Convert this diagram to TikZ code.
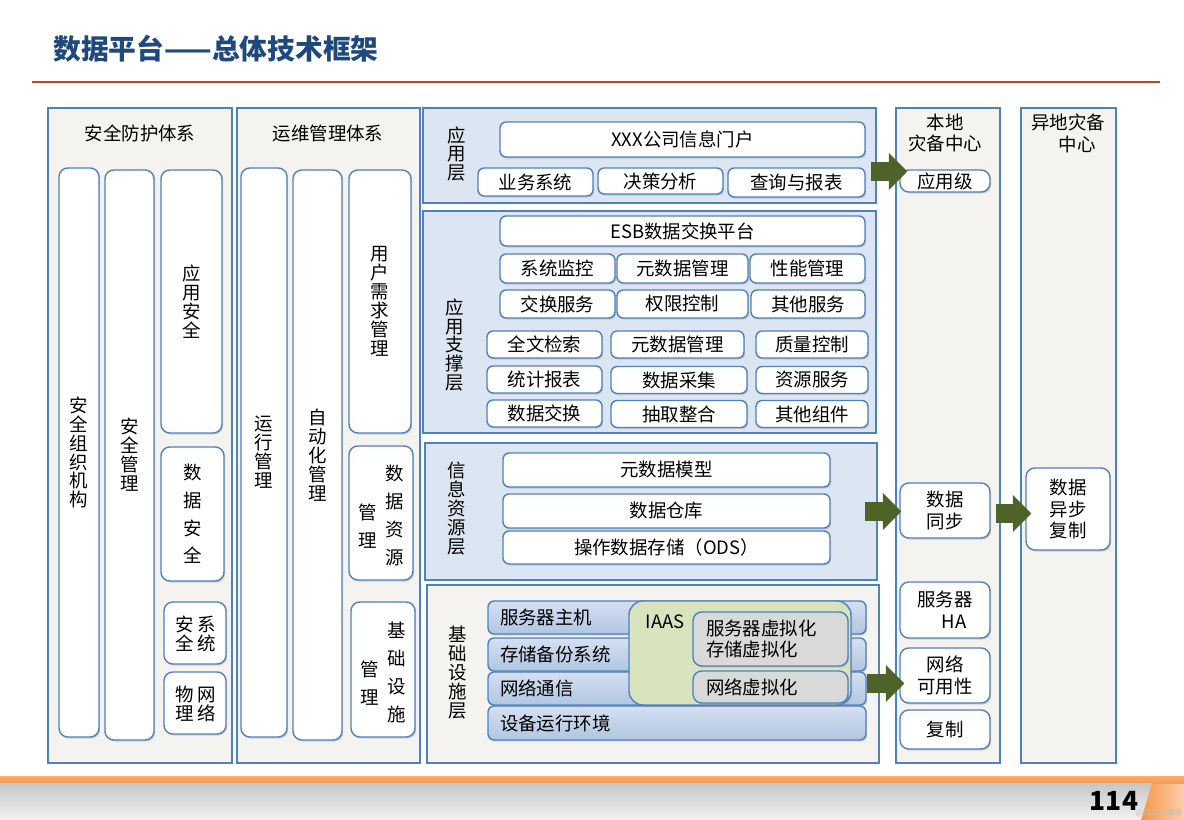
\documentclass[tikz,border=0pt]{standalone}
\usepackage{fontspec}
\setmainfont{Noto Sans CJK SC}
\usetikzlibrary{arrows.meta,shadows}

\definecolor{bord}{HTML}{4F81BD}
\definecolor{pgray}{HTML}{F4F3EF}
\definecolor{lblue}{HTML}{DCE6F2}
\definecolor{agreen}{HTML}{4F6228}
\definecolor{ttl}{HTML}{1F497D}
\definecolor{redl}{HTML}{C0461E}
\definecolor{iaas}{HTML}{D7E4BD}
\definecolor{vgray}{HTML}{D9D9D9}
\definecolor{orng}{HTML}{F79646}

\newcommand{\fs}{\fontsize{10.5}{12.5}\selectfont}
\newcommand{\fv}{\fontsize{10.5}{10.8}\selectfont}

\begin{document}
\begin{tikzpicture}[x=0.02cm,y=-0.02cm,
  wh/.style 2 args={minimum width=#1*0.02cm,minimum height=#2*0.02cm},
  shd/.style={drop shadow={shadow xshift=0.7pt,shadow yshift=-0.9pt,opacity=0.3}}]

\useasboundingbox (0,0) rectangle (1184,820);

% title
\node[anchor=west,inner sep=0,text=ttl,font=\fontsize{15.8}{16}\selectfont\bfseries] (T) at (53,49) {数据平台——总体技术框架};
\draw[redl,line width=1.4pt] (32,82) -- (1160,82);

% footer
\shade[top color=orng!80!white,bottom color=orng] (0,777) rectangle (1184,784);
\shade[top color=black!22,bottom color=black!5] (0,784) rectangle (1152,820);
\shade[left color=orng,right color=orng!45] (1152,784) -- (1184,784) -- (1184,820) -- (1141,820) -- cycle;
\node[font=\fontsize{15}{15}\selectfont\bfseries] (pg) at (1114,801) {114};
\node[anchor=east,text=black!25,font=\fontsize{4.5}{5}\selectfont,inner sep=0] (wm) at (1183,813) {@51CTO博客};

\begin{scope}[every node/.style={draw=bord,fill=pgray,line width=0.6pt,inner sep=0}]
    \node[wh={184}{655}] (P1) at (140,435.5) {};
    \node[wh={183}{655}] (P2) at (328.5,435.5) {};
    \node[wh={453}{95},fill=lblue] (L1) at (649.5,155.5) {};
    \node[wh={453}{222},fill=lblue] (L2) at (649.5,322) {};
    \node[wh={452}{137},fill=lblue] (L3) at (651,511.5) {};
    \node[wh={452}{178}] (L4) at (653,674) {};
    \node[wh={104}{655}] (R1) at (948,435.5) {};
    \node[wh={95}{655}] (R2) at (1068.5,435.5) {};
\end{scope}

\begin{scope}[every node/.style={align=center,inner sep=0,font=\fs}]
    \node (P1t) at (140,133) {安全防护体系};
    \node (P2t) at (328,133) {运维管理体系};
    \node (R1t) at (945,133) {本地\\灾备中心};
    \node (R2t) at (1068,133) {异地灾备\\\hphantom{中}中心};
    \node[font=\fv] (L1t) at (457,154) {应\\用\\层};
    \node[font=\fv] (L2t) at (455,345) {应\\用\\支\\撑\\层};
    \node[font=\fv] (L3t) at (457,509) {信\\息\\资\\源\\层};
    \node[font=\fv] (L4t) at (458,673) {基\\础\\设\\施\\层};
\end{scope}

% left columns
\begin{scope}[every node/.style={draw=bord,fill=white,line width=0.8pt,rounded corners=5pt,inner sep=0,align=center,font=\fv,shd}]
    \node[wh={40}{569}] (S1) at (79,452.5) {安\\全\\组\\织\\机\\构};
    \node[wh={49}{570}] (S2) at (129.5,455) {安\\全\\管\\理};
    \node[wh={61}{263}] (S3) at (191.5,301.5) {应\\用\\安\\全};
    \node[wh={63}{134},font=\fontsize{10.5}{15.8}\selectfont] (S4) at (192.5,514) {数\\据\\安\\全};
    \node[wh={62}{62}] (S5) at (195,633) {};
    \node[wh={62}{62}] (S6) at (195,703) {};
    \node[wh={46}{569}] (O1) at (264,452.5) {运\\行\\管\\理};
    \node[wh={49}{570}] (O2) at (317.5,455) {自\\动\\化\\管\\理};
    \node[wh={62}{263}] (O3) at (380,301.5) {用\\户\\需\\求\\管\\理};
    \node[wh={64}{134}] (O4) at (381,513) {};
    \node[wh={64}{135}] (O5) at (383,669.5) {};
\end{scope}
\begin{scope}[every node/.style={align=center,inner sep=0,font=\fv}]
    \node (S5a) at (185,634) {安\\全};
    \node (S5b) at (207,634) {系\\统};
    \node (S6a) at (185,704) {物\\理};
    \node (S6b) at (207,704) {网\\络};
    \node[font=\fontsize{10.5}{15.8}\selectfont] (O4a) at (368,526.5) {管\\理};
    \node[font=\fontsize{10.5}{15.8}\selectfont] (O4b) at (395,515.5) {数\\据\\资\\源};
    \node[font=\fontsize{10.5}{15.8}\selectfont] (O5a) at (370,683.5) {管\\理};
    \node[font=\fontsize{10.5}{15.8}\selectfont] (O5b) at (397,672.5) {基\\础\\设\\施};
\end{scope}

% layers
\begin{scope}[every node/.style={draw=bord,fill=white,line width=0.8pt,rounded corners=3.5pt,inner sep=0,font=\fs,shd}]
    \node[wh={365}{35}] (A0) at (682.5,139.5) {XXX公司信息门户};
    \node[wh={115}{28}] (A1) at (535.5,182) {业务系统};
    \node[wh={125}{26}] (A2) at (660.5,181) {决策分析};
    \node[wh={137}{29}] (A3) at (796.5,182.5) {查询与报表};
    \node[wh={365}{30}] (B0) at (682.5,231) {ESB数据交换平台};
    \node[wh={115}{29}] (B1) at (557.5,268.5) {系统监控};
    \node[wh={131}{29}] (B2) at (682.5,268.5) {元数据管理};
    \node[wh={115}{29}] (B3) at (807.5,268.5) {性能管理};
    \node[wh={115}{28}] (B4) at (557.5,304) {交换服务};
    \node[wh={131}{28}] (B5) at (682.5,304) {权限控制};
    \node[wh={114}{28}] (B6) at (808,304) {其他服务};
    \node[wh={115}{27}] (C1) at (544.5,344.5) {全文检索};
    \node[wh={133}{27}] (C2) at (677.5,344.5) {元数据管理};
    \node[wh={112}{27}] (C3) at (812,344.5) {质量控制};
    \node[wh={115}{27}] (C4) at (544.5,379.5) {统计报表};
    \node[wh={136}{27}] (C5) at (679,380) {数据采集};
    \node[wh={112}{27}] (C6) at (812,380) {资源服务};
    \node[wh={115}{27}] (C7) at (544.5,413.5) {数据交换};
    \node[wh={136}{27}] (C8) at (679,414) {抽取整合};
    \node[wh={112}{27}] (C9) at (812,414) {其他组件};
    \node[wh={327}{34}] (D1) at (666.5,470) {元数据模型};
    \node[wh={327}{34}] (D2) at (666.5,511) {数据仓库};
    \node[wh={327}{33}] (D3) at (666.5,547.5) {操作数据存储（ODS）};
\end{scope}

% infrastructure
\begin{scope}[every node/.style={draw=bord,line width=0.8pt,rounded corners=3.5pt,top color=blue!3!lblue,bottom color=bord!45,
              text width=7.08cm,inner xsep=0.24cm,inner ysep=0,align=left,font=\fs,shd}]
    \node[wh={378}{34}] (E4) at (677,723) {设备运行环境};
    \node[wh={378}{33}] (E3) at (677,688.5) {网络通信};
    \node[wh={378}{33}] (E2) at (677,654.5) {存储备份系统};
    \node[wh={378}{33}] (E1) at (677,617.5) {服务器主机};
\end{scope}
\node[draw=bord,fill=iaas,line width=0.8pt,rounded corners=8pt,wh={222}{104},shd] (IA) at (740,653) {};
\node[font=\fs,inner sep=0] (IAt) at (665,622) {IAAS};
\begin{scope}[every node/.style={draw=bord,fill=vgray,line width=0.8pt,rounded corners=5pt,text width=2.58cm,inner xsep=0.26cm,inner ysep=0,align=left,font=\fs,shd}]
    \node[wh={155}{54}] (V1) at (770.5,639) {服务器虚拟化\\存储虚拟化};
    \node[wh={155}{32}] (V2) at (770.5,687) {网络虚拟化};
\end{scope}

% disaster recovery
\begin{scope}[every node/.style={draw=bord,fill=white,line width=0.8pt,rounded corners=5pt,inner sep=0,align=center,font=\fs,shd}]
    \node[wh={90}{22}] (yyj) at (945,181) {应用级};
    \node[wh={90}{55}] (sjtb) at (945,510.5) {数据\\同步};
    \node[wh={90}{56}] (fwq) at (945,610) {服务器\\\hphantom{服}HA};
    \node[wh={90}{55}] (wlky) at (945,675.5) {网络\\可用性};
    \node[wh={90}{39}] (fz) at (945,729.5) {复制};
    \node[wh={84}{82}] (ydyb) at (1068,509) {数据\\异步\\复制};
\end{scope}

\coordinate (a1s) at (871,171.5);
\coordinate (a2s) at (865,511.5);
\coordinate (a4s) at (867,683.5);
\begin{scope}[agreen,line width=0.38cm,-{Triangle[width=0.72cm,length=0.37cm]}]
    \draw (a1s) -- ([xshift=0.16cm]a1s -| yyj.west);
    \draw (a2s) -- ([xshift=0.04cm]a2s -| sjtb.west);
    \draw ([xshift=0.1cm,yshift=-0.06cm]sjtb.east) -- ([xshift=0.12cm,yshift=-0.06cm]sjtb.east -| ydyb.west);
    \draw (a4s) -- ([xshift=0.1cm]a4s -| wlky.west);
\end{scope}
\end{tikzpicture}
\end{document}
